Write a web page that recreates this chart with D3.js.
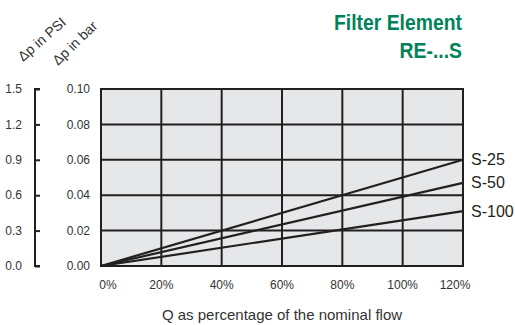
<!DOCTYPE html>
<html><head><meta charset="utf-8">
<script src="https://cdn.jsdelivr.net/npm/d3@7"></script>
<style>
body{margin:0;background:#fff;}
svg text{font-family:"Liberation Sans Narrow","Arial Narrow","Liberation Sans",sans-serif;}
</style></head>
<body><svg id="c" width="515" height="325"></svg>
<script>
const xTicks = [0, 20, 40, 60, 80, 100, 120];
const barTicks = [0, 0.02, 0.04, 0.06, 0.08, 0.10];
const psiTicks = [0, 0.3, 0.6, 0.9, 1.2, 1.5];
const seriesNames = ["S-25", "S-50", "S-100"];
const seriesFlow = [0, 120];
const s25 = [0, 0.060];
const s50 = [0, 0.047];
const s100 = [0, 0.031];

const svg = d3.select("#c");
const x = d3.scaleLinear().domain([0, 120]).range([101, 463]);
const y = d3.scaleLinear().domain([0, 0.10]).range([266, 89]);
const yp = d3.scaleLinear().domain([0, 1.5]).range([266, 89]);

svg.append("rect").attr("x", x(0)).attr("y", y(0.1)).attr("width", x(120)-x(0)).attr("height", y(0)-y(0.1)).attr("fill", "#e6e7e8");

// grid
svg.append("g").selectAll("line").data(xTicks).join("line")
  .attr("x1", d=>x(d)).attr("x2", d=>x(d)).attr("y1", y(0)).attr("y2", y(0.1))
  .attr("stroke", "#231f20").attr("stroke-width", 2);
svg.append("g").selectAll("line").data(barTicks).join("line")
  .attr("x1", x(0)-1).attr("x2", x(120)+1).attr("y1", d=>y(d)).attr("y2", d=>y(d))
  .attr("stroke", "#231f20").attr("stroke-width", 2);

// bar tick labels
svg.append("g").selectAll("text").data(barTicks).join("text")
  .attr("x", 90).attr("y", d=>y(d)).attr("dy", "0.35em").attr("text-anchor", "end")
  .attr("font-size", 12).attr("fill", "#333").text(d=>d3.format(".2f")(d));

// psi axis
const psiAxis = d3.axisRight(yp).tickValues(psiTicks).tickSize(5).tickFormat("");
const pg = svg.append("g").attr("transform", "translate(35,0)").call(psiAxis);
pg.select(".domain").attr("stroke", "#231f20").attr("stroke-width", 2).attr("d", `M5,${yp(1.5)}H0V${yp(0)}H5`);
pg.selectAll(".tick line").attr("stroke", "#231f20").attr("stroke-width", 2);
svg.append("g").selectAll("text").data(psiTicks).join("text")
  .attr("x", 22).attr("y", d=>yp(d)).attr("dy", "0.35em").attr("text-anchor", "end")
  .attr("font-size", 12).attr("fill", "#333").text(d=>d3.format(".1f")(d));

// x tick labels
svg.append("g").selectAll("text").data(xTicks).join("text")
  .attr("x", (d,i)=>x(d) + (i===0?7:(i===xTicks.length-1?-8:0))).attr("y", 289)
  .attr("text-anchor", "middle").attr("font-size", 12).attr("fill", "#333").text(d=>d+"%");

svg.append("text").attr("x", 282).attr("y", 320).attr("text-anchor", "middle")
  .attr("font-size", 15).attr("fill", "#333").text("Q as percentage of the nominal flow");

// lines
const line = d3.line().x((d,i)=>x(seriesFlow[i])).y(d=>y(d));
const data = [s25, s50, s100];
svg.append("g").selectAll("path").data(data).join("path")
  .attr("d", line).attr("fill", "none").attr("stroke", "#231f20").attr("stroke-width", 2.2);

svg.append("g").selectAll("text").data(data).join("text")
  .attr("x", 471).attr("y", d=>y(d[1])).attr("dy", "0.35em")
  .attr("font-size", 16).attr("fill", "#231f20").text((d,i)=>seriesNames[i]);

// rotated axis titles
svg.append("text").attr("transform", "translate(23,62) rotate(-41)")
  .attr("font-size", 14).attr("fill", "#333").text("Δp in PSI");
svg.append("text").attr("transform", "translate(58,66) rotate(-44)")
  .attr("font-size", 14).attr("fill", "#333").text("Δp in bar");

// title (condensed look)
svg.append("text").attr("transform", "translate(462,30) scale(0.88,1)").attr("text-anchor", "end")
  .attr("font-size", 22).attr("font-weight", "bold").attr("fill", "#00825a").text("Filter Element");
svg.append("text").attr("transform", "translate(462,58) scale(0.88,1)").attr("text-anchor", "end")
  .attr("font-size", 22).attr("font-weight", "bold").attr("fill", "#00825a").text("RE-...S");
</script></body></html>
